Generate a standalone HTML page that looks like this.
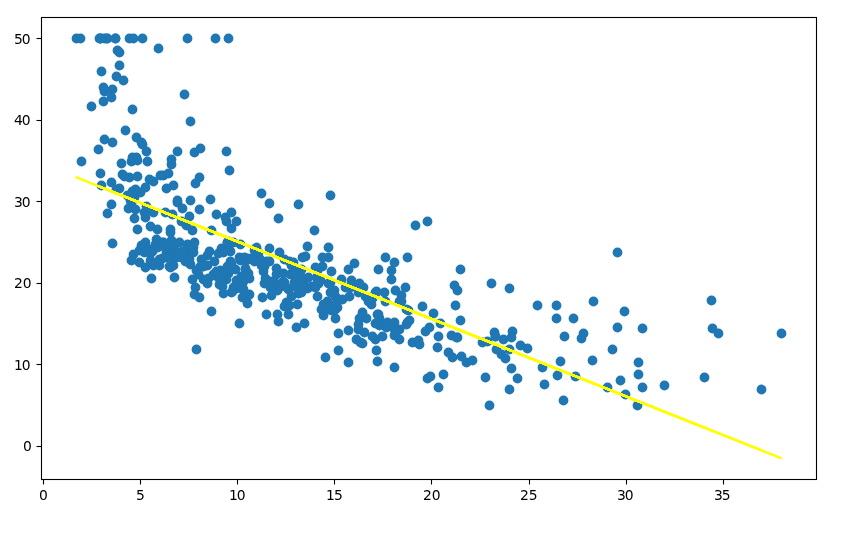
<!DOCTYPE html>
<html lang="en"><head><meta charset="utf-8"><title>Scatter plot with regression line</title>
<style>html,body{margin:0;padding:0;background:#fff}body{width:848px;height:539px;overflow:hidden}svg{display:block}text{font-family:"DejaVu Sans","Liberation Sans",sans-serif;font-size:13.89px;fill:#000}.p circle{fill:#1f77b4}</style></head><body>
<svg width="848" height="539" viewBox="0 0 848 539">
<rect x="0" y="0" width="848" height="539" fill="#fff"/>
<g class="p">
<circle cx="139.5" cy="250.5" r="4.89"/>
<circle cx="220.5" cy="270.5" r="4.89"/>
<circle cx="121.5" cy="163.5" r="4.89"/>
<circle cx="100.5" cy="173.5" r="4.89"/>
<circle cx="146.5" cy="151.5" r="4.89"/>
<circle cx="144.5" cy="212.5" r="4.89"/>
<circle cx="284.5" cy="259.5" r="4.89"/>
<circle cx="415.5" cy="225.5" r="4.89"/>
<circle cx="624.5" cy="311.5" r="4.89"/>
<circle cx="375.5" cy="292.5" r="4.89"/>
<circle cx="440.5" cy="323.5" r="4.89"/>
<circle cx="301.5" cy="292.5" r="4.89"/>
<circle cx="348.5" cy="269.5" r="4.89"/>
<circle cx="203.5" cy="279.5" r="4.89"/>
<circle cx="242.5" cy="297.5" r="4.89"/>
<circle cx="207.5" cy="283.5" r="4.89"/>
<circle cx="171.5" cy="257.5" r="4.89"/>
<circle cx="328.5" cy="303.5" r="4.89"/>
<circle cx="270.5" cy="281.5" r="4.89"/>
<circle cx="262.5" cy="297.5" r="4.89"/>
<circle cx="451.5" cy="335.5" r="4.89"/>
<circle cx="311.5" cy="286.5" r="4.89"/>
<circle cx="407.5" cy="322.5" r="4.89"/>
<circle cx="429.5" cy="327.5" r="4.89"/>
<circle cx="359.5" cy="318.5" r="4.89"/>
<circle cx="364.5" cy="332.5" r="4.89"/>
<circle cx="331.5" cy="310.5" r="4.89"/>
<circle cx="379.5" cy="325.5" r="4.89"/>
<circle cx="291.5" cy="296.5" r="4.89"/>
<circle cx="276.5" cy="274.5" r="4.89"/>
<circle cx="482.5" cy="342.5" r="4.89"/>
<circle cx="296.5" cy="327.5" r="4.89"/>
<circle cx="581.5" cy="338.5" r="4.89"/>
<circle cx="399.5" cy="339.5" r="4.89"/>
<circle cx="438.5" cy="336.5" r="4.89"/>
<circle cx="231.5" cy="292.5" r="4.89"/>
<circle cx="264.5" cy="283.5" r="4.89"/>
<circle cx="213.5" cy="274.5" r="4.89"/>
<circle cx="240.5" cy="244.5" r="4.89"/>
<circle cx="127.5" cy="195.5" r="4.89"/>
<circle cx="81.5" cy="161.5" r="4.89"/>
<circle cx="137.5" cy="229.5" r="4.89"/>
<circle cx="156.5" cy="239.5" r="4.89"/>
<circle cx="187.5" cy="244.5" r="4.89"/>
<circle cx="228.5" cy="273.5" r="4.89"/>
<circle cx="241.5" cy="288.5" r="4.89"/>
<circle cx="318.5" cy="283.5" r="4.89"/>
<circle cx="408.5" cy="310.5" r="4.89"/>
<circle cx="642.5" cy="328.5" r="4.89"/>
<circle cx="358.5" cy="287.5" r="4.89"/>
<circle cx="304.5" cy="285.5" r="4.89"/>
<circle cx="226.5" cy="279.5" r="4.89"/>
<circle cx="145.5" cy="242.5" r="4.89"/>
<circle cx="207.5" cy="255.5" r="4.89"/>
<circle cx="330.5" cy="292.5" r="4.89"/>
<circle cx="136.5" cy="157.5" r="4.89"/>
<circle cx="155.5" cy="244.5" r="4.89"/>
<circle cx="119.5" cy="188.5" r="4.89"/>
<circle cx="176.5" cy="256.5" r="4.89"/>
<circle cx="222.5" cy="286.5" r="4.89"/>
<circle cx="298.5" cy="293.5" r="4.89"/>
<circle cx="323.5" cy="315.5" r="4.89"/>
<circle cx="173.5" cy="265.5" r="4.89"/>
<circle cx="227.5" cy="242.5" r="4.89"/>
<circle cx="199.5" cy="177.5" r="4.89"/>
<circle cx="133.5" cy="254.5" r="4.89"/>
<circle cx="242.5" cy="287.5" r="4.89"/>
<circle cx="200.5" cy="266.5" r="4.89"/>
<circle cx="297.5" cy="304.5" r="4.89"/>
<circle cx="214.5" cy="275.5" r="4.89"/>
<circle cx="173.5" cy="248.5" r="4.89"/>
<circle cx="235.5" cy="269.5" r="4.89"/>
<circle cx="150.5" cy="260.5" r="4.89"/>
<circle cx="189.5" cy="255.5" r="4.89"/>
<circle cx="174.5" cy="249.5" r="4.89"/>
<circle cx="216.5" cy="271.5" r="4.89"/>
<circle cx="275.5" cy="283.5" r="4.89"/>
<circle cx="242.5" cy="276.5" r="4.89"/>
<circle cx="283.5" cy="273.5" r="4.89"/>
<circle cx="220.5" cy="280.5" r="4.89"/>
<circle cx="145.5" cy="217.5" r="4.89"/>
<circle cx="183.5" cy="251.5" r="4.89"/>
<circle cx="173.5" cy="243.5" r="4.89"/>
<circle cx="189.5" cy="259.5" r="4.89"/>
<circle cx="230.5" cy="251.5" r="4.89"/>
<circle cx="170.5" cy="229.5" r="4.89"/>
<circle cx="293.5" cy="262.5" r="4.89"/>
<circle cx="207.5" cy="265.5" r="4.89"/>
<circle cx="150.5" cy="253.5" r="4.89"/>
<circle cx="153.5" cy="212.5" r="4.89"/>
<circle cx="214.5" cy="261.5" r="4.89"/>
<circle cx="202.5" cy="266.5" r="4.89"/>
<circle cx="201.5" cy="259.5" r="4.89"/>
<circle cx="163.5" cy="242.5" r="4.89"/>
<circle cx="249.5" cy="278.5" r="4.89"/>
<circle cx="172.5" cy="214.5" r="4.89"/>
<circle cx="263.5" cy="271.5" r="4.89"/>
<circle cx="125.5" cy="130.5" r="4.89"/>
<circle cx="112.5" cy="89.5" r="4.89"/>
<circle cx="163.5" cy="175.5" r="4.89"/>
<circle cx="226.5" cy="221.5" r="4.89"/>
<circle cx="192.5" cy="230.5" r="4.89"/>
<circle cx="249.5" cy="294.5" r="4.89"/>
<circle cx="304.5" cy="288.5" r="4.89"/>
<circle cx="282.5" cy="282.5" r="4.89"/>
<circle cx="363.5" cy="287.5" r="4.89"/>
<circle cx="405.5" cy="287.5" r="4.89"/>
<circle cx="317.5" cy="279.5" r="4.89"/>
<circle cx="281.5" cy="284.5" r="4.89"/>
<circle cx="345.5" cy="287.5" r="4.89"/>
<circle cx="295.5" cy="269.5" r="4.89"/>
<circle cx="240.5" cy="260.5" r="4.89"/>
<circle cx="358.5" cy="292.5" r="4.89"/>
<circle cx="375.5" cy="293.5" r="4.89"/>
<circle cx="246.5" cy="295.5" r="4.89"/>
<circle cx="349.5" cy="296.5" r="4.89"/>
<circle cx="277.5" cy="273.5" r="4.89"/>
<circle cx="243.5" cy="289.5" r="4.89"/>
<circle cx="341.5" cy="279.5" r="4.89"/>
<circle cx="307.5" cy="288.5" r="4.89"/>
<circle cx="322.5" cy="266.5" r="4.89"/>
<circle cx="320.5" cy="280.5" r="4.89"/>
<circle cx="391.5" cy="279.5" r="4.89"/>
<circle cx="537.5" cy="305.5" r="4.89"/>
<circle cx="384.5" cy="292.5" r="4.89"/>
<circle cx="331.5" cy="271.5" r="4.89"/>
<circle cx="573.5" cy="318.5" r="4.89"/>
<circle cx="377.5" cy="314.5" r="4.89"/>
<circle cx="342.5" cy="299.5" r="4.89"/>
<circle cx="399.5" cy="329.5" r="4.89"/>
<circle cx="288.5" cy="289.5" r="4.89"/>
<circle cx="281.5" cy="286.5" r="4.89"/>
<circle cx="259.5" cy="258.5" r="4.89"/>
<circle cx="335.5" cy="296.5" r="4.89"/>
<circle cx="379.5" cy="318.5" r="4.89"/>
<circle cx="372.5" cy="298.5" r="4.89"/>
<circle cx="371.5" cy="304.5" r="4.89"/>
<circle cx="326.5" cy="306.5" r="4.89"/>
<circle cx="457.5" cy="337.5" r="4.89"/>
<circle cx="401.5" cy="301.5" r="4.89"/>
<circle cx="512.5" cy="331.5" r="4.89"/>
<circle cx="712.5" cy="328.5" r="4.89"/>
<circle cx="564.5" cy="336.5" r="4.89"/>
<circle cx="556.5" cy="318.5" r="4.89"/>
<circle cx="612.5" cy="349.5" r="4.89"/>
<circle cx="583.5" cy="333.5" r="4.89"/>
<circle cx="366.5" cy="318.5" r="4.89"/>
<circle cx="617.5" cy="327.5" r="4.89"/>
<circle cx="593.5" cy="301.5" r="4.89"/>
<circle cx="460.5" cy="320.5" r="4.89"/>
<circle cx="317.5" cy="270.5" r="4.89"/>
<circle cx="301.5" cy="286.5" r="4.89"/>
<circle cx="278.5" cy="321.5" r="4.89"/>
<circle cx="350.5" cy="287.5" r="4.89"/>
<circle cx="337.5" cy="307.5" r="4.89"/>
<circle cx="335.5" cy="318.5" r="4.89"/>
<circle cx="356.5" cy="339.5" r="4.89"/>
<circle cx="132.5" cy="109.5" r="4.89"/>
<circle cx="168.5" cy="248.5" r="4.89"/>
<circle cx="186.5" cy="256.5" r="4.89"/>
<circle cx="150.5" cy="226.5" r="4.89"/>
<circle cx="76.5" cy="38.5" r="4.89"/>
<circle cx="80.5" cy="38.5" r="4.89"/>
<circle cx="107.5" cy="38.5" r="4.89"/>
<circle cx="269.5" cy="261.5" r="4.89"/>
<circle cx="233.5" cy="242.5" r="4.89"/>
<circle cx="115.5" cy="38.5" r="4.89"/>
<circle cx="279.5" cy="252.5" r="4.89"/>
<circle cx="258.5" cy="252.5" r="4.89"/>
<circle cx="263.5" cy="264.5" r="4.89"/>
<circle cx="323.5" cy="304.5" r="4.89"/>
<circle cx="277.5" cy="290.5" r="4.89"/>
<circle cx="328.5" cy="257.5" r="4.89"/>
<circle cx="218.5" cy="253.5" r="4.89"/>
<circle cx="230.5" cy="261.5" r="4.89"/>
<circle cx="146.5" cy="206.5" r="4.89"/>
<circle cx="239.5" cy="257.5" r="4.89"/>
<circle cx="165.5" cy="245.5" r="4.89"/>
<circle cx="177.5" cy="202.5" r="4.89"/>
<circle cx="141.5" cy="142.5" r="4.89"/>
<circle cx="190.5" cy="121.5" r="4.89"/>
<circle cx="226.5" cy="151.5" r="4.89"/>
<circle cx="136.5" cy="137.5" r="4.89"/>
<circle cx="153.5" cy="181.5" r="4.89"/>
<circle cx="314.5" cy="230.5" r="4.89"/>
<circle cx="298.5" cy="204.5" r="4.89"/>
<circle cx="129.5" cy="38.5" r="4.89"/>
<circle cx="173.5" cy="185.5" r="4.89"/>
<circle cx="131.5" cy="203.5" r="4.89"/>
<circle cx="147.5" cy="161.5" r="4.89"/>
<circle cx="142.5" cy="144.5" r="4.89"/>
<circle cx="134.5" cy="197.5" r="4.89"/>
<circle cx="98.5" cy="149.5" r="4.89"/>
<circle cx="140.5" cy="192.5" r="4.89"/>
<circle cx="128.5" cy="208.5" r="4.89"/>
<circle cx="100.5" cy="38.5" r="4.89"/>
<circle cx="122.5" cy="174.5" r="4.89"/>
<circle cx="210.5" cy="199.5" r="4.89"/>
<circle cx="171.5" cy="164.5" r="4.89"/>
<circle cx="131.5" cy="161.5" r="4.89"/>
<circle cx="129.5" cy="177.5" r="4.89"/>
<circle cx="187.5" cy="249.5" r="4.89"/>
<circle cx="103.5" cy="101.5" r="4.89"/>
<circle cx="117.5" cy="50.5" r="4.89"/>
<circle cx="99.5" cy="38.5" r="4.89"/>
<circle cx="254.5" cy="261.5" r="4.89"/>
<circle cx="256.5" cy="247.5" r="4.89"/>
<circle cx="394.5" cy="262.5" r="4.89"/>
<circle cx="328.5" cy="247.5" r="4.89"/>
<circle cx="491.5" cy="283.5" r="4.89"/>
<circle cx="378.5" cy="269.5" r="4.89"/>
<circle cx="509.5" cy="288.5" r="4.89"/>
<circle cx="354.5" cy="263.5" r="4.89"/>
<circle cx="225.5" cy="217.5" r="4.89"/>
<circle cx="617.5" cy="252.5" r="4.89"/>
<circle cx="227.5" cy="242.5" r="4.89"/>
<circle cx="305.5" cy="256.5" r="4.89"/>
<circle cx="231.5" cy="212.5" r="4.89"/>
<circle cx="391.5" cy="270.5" r="4.89"/>
<circle cx="247.5" cy="258.5" r="4.89"/>
<circle cx="231.5" cy="228.5" r="4.89"/>
<circle cx="460.5" cy="269.5" r="4.89"/>
<circle cx="236.5" cy="221.5" r="4.89"/>
<circle cx="190.5" cy="200.5" r="4.89"/>
<circle cx="123.5" cy="80.5" r="4.89"/>
<circle cx="133.5" cy="38.5" r="4.89"/>
<circle cx="104.5" cy="139.5" r="4.89"/>
<circle cx="166.5" cy="188.5" r="4.89"/>
<circle cx="119.5" cy="65.5" r="4.89"/>
<circle cx="116.5" cy="189.5" r="4.89"/>
<circle cx="269.5" cy="248.5" r="4.89"/>
<circle cx="145.5" cy="187.5" r="4.89"/>
<circle cx="91.5" cy="106.5" r="4.89"/>
<circle cx="119.5" cy="52.5" r="4.89"/>
<circle cx="199.5" cy="209.5" r="4.89"/>
<circle cx="254.5" cy="250.5" r="4.89"/>
<circle cx="228.5" cy="241.5" r="4.89"/>
<circle cx="135.5" cy="189.5" r="4.89"/>
<circle cx="166.5" cy="252.5" r="4.89"/>
<circle cx="186.5" cy="256.5" r="4.89"/>
<circle cx="264.5" cy="266.5" r="4.89"/>
<circle cx="284.5" cy="282.5" r="4.89"/>
<circle cx="261.5" cy="265.5" r="4.89"/>
<circle cx="144.5" cy="252.5" r="4.89"/>
<circle cx="286.5" cy="302.5" r="4.89"/>
<circle cx="401.5" cy="295.5" r="4.89"/>
<circle cx="221.5" cy="248.5" r="4.89"/>
<circle cx="240.5" cy="279.5" r="4.89"/>
<circle cx="228.5" cy="246.5" r="4.89"/>
<circle cx="170.5" cy="232.5" r="4.89"/>
<circle cx="157.5" cy="247.5" r="4.89"/>
<circle cx="112.5" cy="243.5" r="4.89"/>
<circle cx="111.5" cy="204.5" r="4.89"/>
<circle cx="111.5" cy="97.5" r="4.89"/>
<circle cx="170.5" cy="267.5" r="4.89"/>
<circle cx="222.5" cy="275.5" r="4.89"/>
<circle cx="103.5" cy="87.5" r="4.89"/>
<circle cx="142.5" cy="38.5" r="4.89"/>
<circle cx="194.5" cy="152.5" r="4.89"/>
<circle cx="177.5" cy="200.5" r="4.89"/>
<circle cx="229.5" cy="170.5" r="4.89"/>
<circle cx="184.5" cy="94.5" r="4.89"/>
<circle cx="158.5" cy="48.5" r="4.89"/>
<circle cx="261.5" cy="193.5" r="4.89"/>
<circle cx="200.5" cy="148.5" r="4.89"/>
<circle cx="246.5" cy="260.5" r="4.89"/>
<circle cx="330.5" cy="195.5" r="4.89"/>
<circle cx="187.5" cy="38.5" r="4.89"/>
<circle cx="104.5" cy="91.5" r="4.89"/>
<circle cx="308.5" cy="277.5" r="4.89"/>
<circle cx="295.5" cy="274.5" r="4.89"/>
<circle cx="171.5" cy="240.5" r="4.89"/>
<circle cx="193.5" cy="247.5" r="4.89"/>
<circle cx="171.5" cy="159.5" r="4.89"/>
<circle cx="111.5" cy="182.5" r="4.89"/>
<circle cx="101.5" cy="185.5" r="4.89"/>
<circle cx="160.5" cy="175.5" r="4.89"/>
<circle cx="124.5" cy="176.5" r="4.89"/>
<circle cx="182.5" cy="208.5" r="4.89"/>
<circle cx="137.5" cy="160.5" r="4.89"/>
<circle cx="116.5" cy="76.5" r="4.89"/>
<circle cx="132.5" cy="157.5" r="4.89"/>
<circle cx="101.5" cy="71.5" r="4.89"/>
<circle cx="104.5" cy="38.5" r="4.89"/>
<circle cx="195.5" cy="183.5" r="4.89"/>
<circle cx="203.5" cy="266.5" r="4.89"/>
<circle cx="294.5" cy="282.5" r="4.89"/>
<circle cx="181.5" cy="257.5" r="4.89"/>
<circle cx="190.5" cy="264.5" r="4.89"/>
<circle cx="228.5" cy="243.5" r="4.89"/>
<circle cx="107.5" cy="213.5" r="4.89"/>
<circle cx="112.5" cy="142.5" r="4.89"/>
<circle cx="134.5" cy="218.5" r="4.89"/>
<circle cx="209.5" cy="251.5" r="4.89"/>
<circle cx="245.5" cy="269.5" r="4.89"/>
<circle cx="165.5" cy="212.5" r="4.89"/>
<circle cx="186.5" cy="225.5" r="4.89"/>
<circle cx="351.5" cy="280.5" r="4.89"/>
<circle cx="139.5" cy="262.5" r="4.89"/>
<circle cx="135.5" cy="209.5" r="4.89"/>
<circle cx="161.5" cy="243.5" r="4.89"/>
<circle cx="227.5" cy="266.5" r="4.89"/>
<circle cx="211.5" cy="230.5" r="4.89"/>
<circle cx="137.5" cy="176.5" r="4.89"/>
<circle cx="177.5" cy="151.5" r="4.89"/>
<circle cx="216.5" cy="214.5" r="4.89"/>
<circle cx="168.5" cy="173.5" r="4.89"/>
<circle cx="189.5" cy="216.5" r="4.89"/>
<circle cx="131.5" cy="260.5" r="4.89"/>
<circle cx="236.5" cy="280.5" r="4.89"/>
<circle cx="288.5" cy="314.5" r="4.89"/>
<circle cx="159.5" cy="265.5" r="4.89"/>
<circle cx="270.5" cy="287.5" r="4.89"/>
<circle cx="196.5" cy="270.5" r="4.89"/>
<circle cx="223.5" cy="252.5" r="4.89"/>
<circle cx="266.5" cy="314.5" r="4.89"/>
<circle cx="399.5" cy="301.5" r="4.89"/>
<circle cx="353.5" cy="284.5" r="4.89"/>
<circle cx="244.5" cy="257.5" r="4.89"/>
<circle cx="290.5" cy="274.5" r="4.89"/>
<circle cx="183.5" cy="252.5" r="4.89"/>
<circle cx="176.5" cy="257.5" r="4.89"/>
<circle cx="192.5" cy="279.5" r="4.89"/>
<circle cx="271.5" cy="295.5" r="4.89"/>
<circle cx="162.5" cy="242.5" r="4.89"/>
<circle cx="141.5" cy="245.5" r="4.89"/>
<circle cx="162.5" cy="258.5" r="4.89"/>
<circle cx="291.5" cy="265.5" r="4.89"/>
<circle cx="236.5" cy="288.5" r="4.89"/>
<circle cx="185.5" cy="261.5" r="4.89"/>
<circle cx="219.5" cy="284.5" r="4.89"/>
<circle cx="284.5" cy="306.5" r="4.89"/>
<circle cx="195.5" cy="287.5" r="4.89"/>
<circle cx="153.5" cy="265.5" r="4.89"/>
<circle cx="174.5" cy="277.5" r="4.89"/>
<circle cx="198.5" cy="274.5" r="4.89"/>
<circle cx="233.5" cy="287.5" r="4.89"/>
<circle cx="248.5" cy="295.5" r="4.89"/>
<circle cx="208.5" cy="278.5" r="4.89"/>
<circle cx="232.5" cy="291.5" r="4.89"/>
<circle cx="223.5" cy="293.5" r="4.89"/>
<circle cx="149.5" cy="179.5" r="4.89"/>
<circle cx="211.5" cy="311.5" r="4.89"/>
<circle cx="182.5" cy="251.5" r="4.89"/>
<circle cx="132.5" cy="191.5" r="4.89"/>
<circle cx="247.5" cy="303.5" r="4.89"/>
<circle cx="289.5" cy="305.5" r="4.89"/>
<circle cx="166.5" cy="257.5" r="4.89"/>
<circle cx="159.5" cy="246.5" r="4.89"/>
<circle cx="157.5" cy="229.5" r="4.89"/>
<circle cx="159.5" cy="259.5" r="4.89"/>
<circle cx="149.5" cy="249.5" r="4.89"/>
<circle cx="194.5" cy="294.5" r="4.89"/>
<circle cx="130.5" cy="200.5" r="4.89"/>
<circle cx="199.5" cy="297.5" r="4.89"/>
<circle cx="151.5" cy="278.5" r="4.89"/>
<circle cx="385.5" cy="301.5" r="4.89"/>
<circle cx="301.5" cy="269.5" r="4.89"/>
<circle cx="266.5" cy="261.5" r="4.89"/>
<circle cx="289.5" cy="261.5" r="4.89"/>
<circle cx="194.5" cy="242.5" r="4.89"/>
<circle cx="318.5" cy="283.5" r="4.89"/>
<circle cx="241.5" cy="276.5" r="4.89"/>
<circle cx="327.5" cy="309.5" r="4.89"/>
<circle cx="145.5" cy="267.5" r="4.89"/>
<circle cx="181.5" cy="221.5" r="4.89"/>
<circle cx="315.5" cy="267.5" r="4.89"/>
<circle cx="302.5" cy="257.5" r="4.89"/>
<circle cx="106.5" cy="38.5" r="4.89"/>
<circle cx="115.5" cy="38.5" r="4.89"/>
<circle cx="100.5" cy="38.5" r="4.89"/>
<circle cx="228.5" cy="38.5" r="4.89"/>
<circle cx="215.5" cy="38.5" r="4.89"/>
<circle cx="718.5" cy="333.5" r="4.89"/>
<circle cx="781.5" cy="333.5" r="4.89"/>
<circle cx="304.5" cy="323.5" r="4.89"/>
<circle cx="494.5" cy="332.5" r="4.89"/>
<circle cx="456.5" cy="337.5" r="4.89"/>
<circle cx="503.5" cy="339.5" r="4.89"/>
<circle cx="466.5" cy="362.5" r="4.89"/>
<circle cx="377.5" cy="361.5" r="4.89"/>
<circle cx="452.5" cy="357.5" r="4.89"/>
<circle cx="501.5" cy="354.5" r="4.89"/>
<circle cx="520.5" cy="345.5" r="4.89"/>
<circle cx="638.5" cy="374.5" r="4.89"/>
<circle cx="642.5" cy="387.5" r="4.89"/>
<circle cx="592.5" cy="360.5" r="4.89"/>
<circle cx="664.5" cy="385.5" r="4.89"/>
<circle cx="638.5" cy="362.5" r="4.89"/>
<circle cx="448.5" cy="352.5" r="4.89"/>
<circle cx="375.5" cy="323.5" r="4.89"/>
<circle cx="407.5" cy="257.5" r="4.89"/>
<circle cx="542.5" cy="367.5" r="4.89"/>
<circle cx="338.5" cy="333.5" r="4.89"/>
<circle cx="360.5" cy="342.5" r="4.89"/>
<circle cx="375.5" cy="339.5" r="4.89"/>
<circle cx="419.5" cy="344.5" r="4.89"/>
<circle cx="430.5" cy="376.5" r="4.89"/>
<circle cx="637.5" cy="405.5" r="4.89"/>
<circle cx="625.5" cy="394.5" r="4.89"/>
<circle cx="563.5" cy="400.5" r="4.89"/>
<circle cx="438.5" cy="387.5" r="4.89"/>
<circle cx="437.5" cy="347.5" r="4.89"/>
<circle cx="427.5" cy="378.5" r="4.89"/>
<circle cx="575.5" cy="376.5" r="4.89"/>
<circle cx="489.5" cy="405.5" r="4.89"/>
<circle cx="496.5" cy="349.5" r="4.89"/>
<circle cx="278.5" cy="218.5" r="4.89"/>
<circle cx="556.5" cy="305.5" r="4.89"/>
<circle cx="427.5" cy="221.5" r="4.89"/>
<circle cx="239.5" cy="323.5" r="4.89"/>
<circle cx="455.5" cy="305.5" r="4.89"/>
<circle cx="711.5" cy="300.5" r="4.89"/>
<circle cx="433.5" cy="313.5" r="4.89"/>
<circle cx="761.5" cy="389.5" r="4.89"/>
<circle cx="607.5" cy="387.5" r="4.89"/>
<circle cx="544.5" cy="384.5" r="4.89"/>
<circle cx="560.5" cy="361.5" r="4.89"/>
<circle cx="443.5" cy="374.5" r="4.89"/>
<circle cx="485.5" cy="377.5" r="4.89"/>
<circle cx="335.5" cy="309.5" r="4.89"/>
<circle cx="348.5" cy="330.5" r="4.89"/>
<circle cx="317.5" cy="276.5" r="4.89"/>
<circle cx="495.5" cy="336.5" r="4.89"/>
<circle cx="376.5" cy="350.5" r="4.89"/>
<circle cx="517.5" cy="378.5" r="4.89"/>
<circle cx="348.5" cy="362.5" r="4.89"/>
<circle cx="325.5" cy="357.5" r="4.89"/>
<circle cx="461.5" cy="356.5" r="4.89"/>
<circle cx="511.5" cy="368.5" r="4.89"/>
<circle cx="386.5" cy="327.5" r="4.89"/>
<circle cx="425.5" cy="331.5" r="4.89"/>
<circle cx="277.5" cy="314.5" r="4.89"/>
<circle cx="358.5" cy="329.5" r="4.89"/>
<circle cx="338.5" cy="350.5" r="4.89"/>
<circle cx="495.5" cy="336.5" r="4.89"/>
<circle cx="394.5" cy="367.5" r="4.89"/>
<circle cx="557.5" cy="375.5" r="4.89"/>
<circle cx="704.5" cy="377.5" r="4.89"/>
<circle cx="487.5" cy="341.5" r="4.89"/>
<circle cx="472.5" cy="360.5" r="4.89"/>
<circle cx="422.5" cy="306.5" r="4.89"/>
<circle cx="365.5" cy="296.5" r="4.89"/>
<circle cx="409.5" cy="320.5" r="4.89"/>
<circle cx="505.5" cy="358.5" r="4.89"/>
<circle cx="509.5" cy="349.5" r="4.89"/>
<circle cx="388.5" cy="324.5" r="4.89"/>
<circle cx="362.5" cy="343.5" r="4.89"/>
<circle cx="395.5" cy="331.5" r="4.89"/>
<circle cx="418.5" cy="340.5" r="4.89"/>
<circle cx="382.5" cy="336.5" r="4.89"/>
<circle cx="387.5" cy="322.5" r="4.89"/>
<circle cx="378.5" cy="314.5" r="4.89"/>
<circle cx="368.5" cy="301.5" r="4.89"/>
<circle cx="406.5" cy="324.5" r="4.89"/>
<circle cx="395.5" cy="331.5" r="4.89"/>
<circle cx="412.5" cy="342.5" r="4.89"/>
<circle cx="372.5" cy="336.5" r="4.89"/>
<circle cx="358.5" cy="324.5" r="4.89"/>
<circle cx="328.5" cy="283.5" r="4.89"/>
<circle cx="362.5" cy="312.5" r="4.89"/>
<circle cx="327.5" cy="301.5" r="4.89"/>
<circle cx="315.5" cy="287.5" r="4.89"/>
<circle cx="243.5" cy="281.5" r="4.89"/>
<circle cx="300.5" cy="271.5" r="4.89"/>
<circle cx="317.5" cy="283.5" r="4.89"/>
<circle cx="376.5" cy="291.5" r="4.89"/>
<circle cx="457.5" cy="290.5" r="4.89"/>
<circle cx="395.5" cy="290.5" r="4.89"/>
<circle cx="330.5" cy="282.5" r="4.89"/>
<circle cx="359.5" cy="283.5" r="4.89"/>
<circle cx="293.5" cy="286.5" r="4.89"/>
<circle cx="322.5" cy="257.5" r="4.89"/>
<circle cx="269.5" cy="203.5" r="4.89"/>
<circle cx="395.5" cy="333.5" r="4.89"/>
<circle cx="511.5" cy="337.5" r="4.89"/>
<circle cx="406.5" cy="309.5" r="4.89"/>
<circle cx="527.5" cy="348.5" r="4.89"/>
<circle cx="393.5" cy="327.5" r="4.89"/>
<circle cx="297.5" cy="271.5" r="4.89"/>
<circle cx="251.5" cy="258.5" r="4.89"/>
<circle cx="193.5" cy="252.5" r="4.89"/>
<circle cx="179.5" cy="242.5" r="4.89"/>
<circle cx="245.5" cy="268.5" r="4.89"/>
<circle cx="302.5" cy="278.5" r="4.89"/>
<circle cx="248.5" cy="273.5" r="4.89"/>
<circle cx="334.5" cy="290.5" r="4.89"/>
<circle cx="265.5" cy="278.5" r="4.89"/>
<circle cx="394.5" cy="322.5" r="4.89"/>
<circle cx="509.5" cy="389.5" r="4.89"/>
<circle cx="620.5" cy="380.5" r="4.89"/>
<circle cx="394.5" cy="335.5" r="4.89"/>
<circle cx="302.5" cy="282.5" r="4.89"/>
<circle cx="276.5" cy="268.5" r="4.89"/>
<circle cx="307.5" cy="246.5" r="4.89"/>
<circle cx="385.5" cy="257.5" r="4.89"/>
<circle cx="454.5" cy="285.5" r="4.89"/>
<circle cx="317.5" cy="296.5" r="4.89"/>
<circle cx="294.5" cy="273.5" r="4.89"/>
<circle cx="336.5" cy="303.5" r="4.89"/>
<circle cx="321.5" cy="309.5" r="4.89"/>
<circle cx="231.5" cy="263.5" r="4.89"/>
<circle cx="219.5" cy="278.5" r="4.89"/>
<circle cx="152.5" cy="251.5" r="4.89"/>
<circle cx="169.5" cy="266.5" r="4.89"/>
<circle cx="196.5" cy="349.5" r="4.89"/>
</g>
<g stroke="#ffff00" stroke-linecap="round">
<line x1="139.47" y1="202.52" x2="99.82" y2="186.73" stroke-width="2.08"/>
<line x1="99.82" y1="186.73" x2="284.28" y2="260.22" stroke-width="2.08"/>
<line x1="284.28" y1="260.22" x2="375.05" y2="296.38" stroke-width="2.08"/>
<line x1="375.05" y1="296.38" x2="348.03" y2="285.62" stroke-width="2.08"/>
<line x1="348.03" y1="285.62" x2="207.31" y2="229.55" stroke-width="2.08"/>
<line x1="207.31" y1="229.55" x2="269.90" y2="254.49" stroke-width="2.08"/>
<line x1="269.90" y1="254.49" x2="311.49" y2="271.06" stroke-width="2.08"/>
<line x1="311.49" y1="271.06" x2="359.50" y2="290.19" stroke-width="2.08"/>
<line x1="359.50" y1="290.19" x2="378.55" y2="297.78" stroke-width="2.08"/>
<line x1="378.55" y1="297.78" x2="481.95" y2="338.97" stroke-width="2.08"/>
<line x1="481.95" y1="338.97" x2="399.34" y2="306.06" stroke-width="2.08"/>
<line x1="399.34" y1="306.06" x2="264.45" y2="252.32" stroke-width="2.08"/>
<line x1="264.45" y1="252.32" x2="126.65" y2="197.41" stroke-width="2.08"/>
<line x1="126.65" y1="197.41" x2="155.61" y2="208.95" stroke-width="2.08"/>
<line x1="155.61" y1="208.95" x2="241.13" y2="243.03" stroke-width="2.08"/>
<line x1="241.13" y1="243.03" x2="641.53" y2="402.55" stroke-width="2.08"/>
<line x1="641.53" y1="402.55" x2="225.97" y2="236.98" stroke-width="2.08"/>
<line x1="225.97" y1="236.98" x2="330.34" y2="278.57" stroke-width="2.08"/>
<line x1="330.34" y1="278.57" x2="119.45" y2="194.55" stroke-width="2.08"/>
<line x1="119.45" y1="194.55" x2="298.27" y2="265.79" stroke-width="2.08"/>
<line x1="298.27" y1="265.79" x2="227.33" y2="237.53" stroke-width="2.08"/>
<line x1="227.33" y1="237.53" x2="241.71" y2="243.26" stroke-width="2.08"/>
<line x1="241.71" y1="243.26" x2="213.53" y2="232.03" stroke-width="2.08"/>
<line x1="213.53" y1="232.03" x2="149.97" y2="206.71" stroke-width="2.08"/>
<line x1="149.97" y1="206.71" x2="216.44" y2="233.19" stroke-width="2.08"/>
<line x1="216.44" y1="233.19" x2="282.53" y2="259.52" stroke-width="2.08"/>
<line x1="282.53" y1="259.52" x2="183.01" y2="219.87" stroke-width="2.08"/>
<line x1="183.01" y1="219.87" x2="229.66" y2="238.46" stroke-width="2.08"/>
<line x1="229.66" y1="238.46" x2="206.73" y2="229.32" stroke-width="2.08"/>
<line x1="206.73" y1="229.32" x2="213.92" y2="232.18" stroke-width="2.08"/>
<line x1="213.92" y1="232.18" x2="163.38" y2="212.05" stroke-width="2.08"/>
<line x1="163.38" y1="212.05" x2="263.09" y2="251.78" stroke-width="2.08"/>
<line x1="263.09" y1="251.78" x2="162.99" y2="211.89" stroke-width="2.08"/>
<line x1="162.99" y1="211.89" x2="249.29" y2="246.28" stroke-width="2.08"/>
<line x1="249.29" y1="246.28" x2="362.80" y2="291.50" stroke-width="2.08"/>
<line x1="362.80" y1="291.50" x2="281.17" y2="258.98" stroke-width="2.08"/>
<line x1="281.17" y1="258.98" x2="240.16" y2="242.64" stroke-width="2.08"/>
<line x1="240.16" y1="242.64" x2="245.79" y2="244.88" stroke-width="2.08"/>
<line x1="245.79" y1="244.88" x2="242.88" y2="243.72" stroke-width="2.08"/>
<line x1="242.88" y1="243.72" x2="321.99" y2="275.24" stroke-width="2.08"/>
<line x1="321.99" y1="275.24" x2="536.57" y2="360.73" stroke-width="2.08"/>
<line x1="536.57" y1="360.73" x2="572.53" y2="375.06" stroke-width="2.08"/>
<line x1="572.53" y1="375.06" x2="399.15" y2="305.98" stroke-width="2.08"/>
<line x1="399.15" y1="305.98" x2="258.82" y2="250.07" stroke-width="2.08"/>
<line x1="258.82" y1="250.07" x2="372.33" y2="295.30" stroke-width="2.08"/>
<line x1="372.33" y1="295.30" x2="457.07" y2="329.06" stroke-width="2.08"/>
<line x1="457.07" y1="329.06" x2="711.50" y2="430.43" stroke-width="2.08"/>
<line x1="711.50" y1="430.43" x2="611.98" y2="390.78" stroke-width="2.08"/>
<line x1="611.98" y1="390.78" x2="616.65" y2="392.64" stroke-width="2.08"/>
<line x1="616.65" y1="392.64" x2="316.74" y2="273.15" stroke-width="2.08"/>
<line x1="316.74" y1="273.15" x2="349.59" y2="286.24" stroke-width="2.08"/>
<line x1="349.59" y1="286.24" x2="356.39" y2="288.95" stroke-width="2.08"/>
<line x1="356.39" y1="288.95" x2="186.32" y2="221.19" stroke-width="2.08"/>
<line x1="186.32" y1="221.19" x2="76.30" y2="177.36" stroke-width="2.08"/>
<line x1="76.30" y1="177.36" x2="80.00" y2="178.83" stroke-width="2.08"/>
<line x1="80.00" y1="178.83" x2="233.35" y2="239.93" stroke-width="2.08"/>
<line x1="233.35" y1="239.93" x2="258.43" y2="249.92" stroke-width="2.08"/>
<line x1="258.43" y1="249.92" x2="276.50" y2="257.12" stroke-width="2.08"/>
<line x1="276.50" y1="257.12" x2="230.05" y2="238.61" stroke-width="2.08"/>
<line x1="230.05" y1="238.61" x2="164.94" y2="212.67" stroke-width="2.08"/>
<line x1="164.94" y1="212.67" x2="189.62" y2="222.50" stroke-width="2.08"/>
<line x1="189.62" y1="222.50" x2="153.08" y2="207.94" stroke-width="2.08"/>
<line x1="153.08" y1="207.94" x2="129.17" y2="198.42" stroke-width="2.08"/>
<line x1="129.17" y1="198.42" x2="147.44" y2="205.70" stroke-width="2.08"/>
<line x1="147.44" y1="205.70" x2="98.46" y2="186.18" stroke-width="2.08"/>
<line x1="98.46" y1="186.18" x2="100.41" y2="186.96" stroke-width="2.08"/>
<line x1="100.41" y1="186.96" x2="171.35" y2="215.22" stroke-width="2.08"/>
<line x1="171.35" y1="215.22" x2="187.09" y2="221.50" stroke-width="2.08"/>
<line x1="187.09" y1="221.50" x2="98.66" y2="186.26" stroke-width="2.08"/>
<line x1="98.66" y1="186.26" x2="393.71" y2="303.82" stroke-width="2.08"/>
<line x1="393.71" y1="303.82" x2="378.35" y2="297.70" stroke-width="2.08"/>
<line x1="378.35" y1="297.70" x2="225.00" y2="236.60" stroke-width="2.08"/>
<line x1="225.00" y1="236.60" x2="305.27" y2="268.58" stroke-width="2.08"/>
<line x1="305.27" y1="268.58" x2="246.77" y2="245.27" stroke-width="2.08"/>
<line x1="246.77" y1="245.27" x2="235.69" y2="240.86" stroke-width="2.08"/>
<line x1="235.69" y1="240.86" x2="132.67" y2="199.81" stroke-width="2.08"/>
<line x1="132.67" y1="199.81" x2="118.87" y2="194.32" stroke-width="2.08"/>
<line x1="118.87" y1="194.32" x2="144.72" y2="204.61" stroke-width="2.08"/>
<line x1="144.72" y1="204.61" x2="199.14" y2="226.30" stroke-width="2.08"/>
<line x1="199.14" y1="226.30" x2="134.61" y2="200.59" stroke-width="2.08"/>
<line x1="134.61" y1="200.59" x2="263.87" y2="252.09" stroke-width="2.08"/>
<line x1="263.87" y1="252.09" x2="143.56" y2="204.15" stroke-width="2.08"/>
<line x1="143.56" y1="204.15" x2="220.72" y2="234.89" stroke-width="2.08"/>
<line x1="220.72" y1="234.89" x2="170.18" y2="214.76" stroke-width="2.08"/>
<line x1="170.18" y1="214.76" x2="111.29" y2="191.30" stroke-width="2.08"/>
<line x1="111.29" y1="191.30" x2="222.47" y2="235.59" stroke-width="2.08"/>
<line x1="222.47" y1="235.59" x2="194.09" y2="224.28" stroke-width="2.08"/>
<line x1="194.09" y1="224.28" x2="183.79" y2="220.18" stroke-width="2.08"/>
<line x1="183.79" y1="220.18" x2="200.12" y2="226.69" stroke-width="2.08"/>
<line x1="200.12" y1="226.69" x2="187.29" y2="221.57" stroke-width="2.08"/>
<line x1="187.29" y1="221.57" x2="295.36" y2="264.63" stroke-width="2.08"/>
<line x1="295.36" y1="264.63" x2="170.57" y2="214.91" stroke-width="2.08"/>
<line x1="170.57" y1="214.91" x2="160.27" y2="210.81" stroke-width="2.08"/>
<line x1="160.27" y1="210.81" x2="136.95" y2="201.52" stroke-width="2.08"/>
<line x1="136.95" y1="201.52" x2="101.18" y2="187.27" stroke-width="2.08"/>
<line x1="101.18" y1="187.27" x2="202.64" y2="227.69" stroke-width="2.08"/>
<line x1="202.64" y1="227.69" x2="190.40" y2="222.81" stroke-width="2.08"/>
<line x1="190.40" y1="222.81" x2="111.87" y2="191.53" stroke-width="2.08"/>
<line x1="111.87" y1="191.53" x2="244.82" y2="244.50" stroke-width="2.08"/>
<line x1="244.82" y1="244.50" x2="350.56" y2="286.62" stroke-width="2.08"/>
<line x1="350.56" y1="286.62" x2="160.66" y2="210.96" stroke-width="2.08"/>
<line x1="160.66" y1="210.96" x2="137.14" y2="201.59" stroke-width="2.08"/>
<line x1="137.14" y1="201.59" x2="168.43" y2="214.06" stroke-width="2.08"/>
<line x1="168.43" y1="214.06" x2="236.46" y2="241.17" stroke-width="2.08"/>
<line x1="236.46" y1="241.17" x2="270.48" y2="254.72" stroke-width="2.08"/>
<line x1="270.48" y1="254.72" x2="266.20" y2="253.02" stroke-width="2.08"/>
<line x1="266.20" y1="253.02" x2="244.04" y2="244.19" stroke-width="2.08"/>
<line x1="244.04" y1="244.19" x2="176.21" y2="217.16" stroke-width="2.08"/>
<line x1="176.21" y1="217.16" x2="161.63" y2="211.35" stroke-width="2.08"/>
<line x1="161.63" y1="211.35" x2="291.28" y2="263.00" stroke-width="2.08"/>
<line x1="291.28" y1="263.00" x2="219.36" y2="234.35" stroke-width="2.08"/>
<line x1="219.36" y1="234.35" x2="153.08" y2="207.94" stroke-width="2.08"/>
<line x1="153.08" y1="207.94" x2="233.16" y2="239.85" stroke-width="2.08"/>
<line x1="233.16" y1="239.85" x2="231.99" y2="239.39" stroke-width="2.08"/>
<line x1="231.99" y1="239.39" x2="210.81" y2="230.94" stroke-width="2.08"/>
<line x1="210.81" y1="230.94" x2="247.35" y2="245.50" stroke-width="2.08"/>
<line x1="247.35" y1="245.50" x2="159.10" y2="210.35" stroke-width="2.08"/>
<line x1="159.10" y1="210.35" x2="149.39" y2="206.47" stroke-width="2.08"/>
<line x1="149.39" y1="206.47" x2="199.14" y2="226.30" stroke-width="2.08"/>
<line x1="199.14" y1="226.30" x2="300.61" y2="266.72" stroke-width="2.08"/>
<line x1="300.61" y1="266.72" x2="194.09" y2="224.28" stroke-width="2.08"/>
<line x1="194.09" y1="224.28" x2="327.23" y2="277.33" stroke-width="2.08"/>
<line x1="327.23" y1="277.33" x2="314.79" y2="272.38" stroke-width="2.08"/>
<line x1="314.79" y1="272.38" x2="115.18" y2="192.84" stroke-width="2.08"/>
<line x1="115.18" y1="192.84" x2="215.28" y2="232.73" stroke-width="2.08"/>
<line x1="215.28" y1="232.73" x2="780.70" y2="458.00" stroke-width="2.08"/>
<line x1="780.70" y1="458.00" x2="303.91" y2="268.04" stroke-width="2.08"/>
<line x1="303.91" y1="268.04" x2="503.14" y2="347.41" stroke-width="2.08"/>
<line x1="503.14" y1="347.41" x2="452.41" y2="327.20" stroke-width="2.08"/>
<line x1="452.41" y1="327.20" x2="638.03" y2="401.16" stroke-width="2.08"/>
<line x1="638.03" y1="401.16" x2="664.46" y2="411.69" stroke-width="2.08"/>
<line x1="664.46" y1="411.69" x2="375.24" y2="296.46" stroke-width="2.08"/>
<line x1="375.24" y1="296.46" x2="337.54" y2="281.44" stroke-width="2.08"/>
<line x1="337.54" y1="281.44" x2="419.17" y2="313.96" stroke-width="2.08"/>
<line x1="419.17" y1="313.96" x2="625.20" y2="396.05" stroke-width="2.08"/>
<line x1="625.20" y1="396.05" x2="437.44" y2="321.24" stroke-width="2.08"/>
<line x1="437.44" y1="321.24" x2="489.34" y2="341.92" stroke-width="2.08"/>
<line x1="489.34" y1="341.92" x2="555.81" y2="368.40" stroke-width="2.08"/>
<line x1="555.81" y1="368.40" x2="455.13" y2="328.29" stroke-width="2.08"/>
<line x1="455.13" y1="328.29" x2="761.45" y2="450.33" stroke-width="2.08"/>
<line x1="761.45" y1="450.33" x2="560.48" y2="370.26" stroke-width="2.08"/>
<line x1="560.48" y1="370.26" x2="334.62" y2="280.27" stroke-width="2.08"/>
<line x1="334.62" y1="280.27" x2="495.36" y2="344.32" stroke-width="2.08"/>
<line x1="495.36" y1="344.32" x2="347.64" y2="285.46" stroke-width="2.08"/>
<line x1="347.64" y1="285.46" x2="510.72" y2="350.44" stroke-width="2.08"/>
<line x1="510.72" y1="350.44" x2="276.50" y2="257.12" stroke-width="2.08"/>
<line x1="276.50" y1="257.12" x2="494.97" y2="344.16" stroke-width="2.08"/>
<line x1="494.97" y1="344.16" x2="703.92" y2="427.41" stroke-width="2.08"/>
<line x1="703.92" y1="427.41" x2="422.09" y2="315.12" stroke-width="2.08"/>
<line x1="422.09" y1="315.12" x2="505.08" y2="348.19" stroke-width="2.08"/>
<line x1="505.08" y1="348.19" x2="362.22" y2="291.27" stroke-width="2.08"/>
<line x1="362.22" y1="291.27" x2="381.66" y2="299.01" stroke-width="2.08"/>
<line x1="381.66" y1="299.01" x2="368.05" y2="293.59" stroke-width="2.08"/>
<line x1="368.05" y1="293.59" x2="412.17" y2="311.17" stroke-width="2.08"/>
<line x1="412.17" y1="311.17" x2="328.40" y2="277.80" stroke-width="2.08"/>
<line x1="328.40" y1="277.80" x2="314.60" y2="272.30" stroke-width="2.08"/>
<line x1="314.60" y1="272.30" x2="317.32" y2="273.38" stroke-width="2.08"/>
<line x1="317.32" y1="273.38" x2="395.07" y2="304.36" stroke-width="2.08"/>
<line x1="395.07" y1="304.36" x2="292.83" y2="263.62" stroke-width="2.08"/>
<line x1="292.83" y1="263.62" x2="395.26" y2="304.44" stroke-width="2.08"/>
<line x1="395.26" y1="304.44" x2="526.85" y2="356.86" stroke-width="2.08"/>
<line x1="526.85" y1="356.86" x2="251.43" y2="247.13" stroke-width="2.08"/>
<line x1="251.43" y1="247.13" x2="245.21" y2="244.65" stroke-width="2.08"/>
<line x1="245.21" y1="244.65" x2="333.84" y2="279.96" stroke-width="2.08"/>
<line x1="333.84" y1="279.96" x2="508.58" y2="349.58" stroke-width="2.08"/>
<line x1="508.58" y1="349.58" x2="302.16" y2="267.34" stroke-width="2.08"/>
<line x1="302.16" y1="267.34" x2="384.77" y2="300.25" stroke-width="2.08"/>
<line x1="384.77" y1="300.25" x2="293.80" y2="264.01" stroke-width="2.08"/>
<line x1="293.80" y1="264.01" x2="230.63" y2="238.84" stroke-width="2.08"/>
<line x1="230.63" y1="238.84" x2="168.63" y2="214.14" stroke-width="2.08"/>
</g>
<g stroke="#000" stroke-width="1.1">
<line x1="43.5" y1="480.0" x2="43.5" y2="484.50"/>
<line x1="140.5" y1="480.0" x2="140.5" y2="484.50"/>
<line x1="237.5" y1="480.0" x2="237.5" y2="484.50"/>
<line x1="334.5" y1="480.0" x2="334.5" y2="484.50"/>
<line x1="431.5" y1="480.0" x2="431.5" y2="484.50"/>
<line x1="529.5" y1="480.0" x2="529.5" y2="484.50"/>
<line x1="626.5" y1="480.0" x2="626.5" y2="484.50"/>
<line x1="723.5" y1="480.0" x2="723.5" y2="484.50"/>
<line x1="36.50" y1="446.5" x2="41.0" y2="446.5"/>
<line x1="36.50" y1="364.5" x2="41.0" y2="364.5"/>
<line x1="36.50" y1="283.5" x2="41.0" y2="283.5"/>
<line x1="36.50" y1="201.5" x2="41.0" y2="201.5"/>
<line x1="36.50" y1="120.5" x2="41.0" y2="120.5"/>
<line x1="36.50" y1="38.5" x2="41.0" y2="38.5"/>
</g>
<rect x="41.5" y="17.5" width="775" height="462" fill="none" stroke="#000" stroke-width="1.1"/>
<g>
<text x="38.93" y="499.57">0</text>
<text x="135.88" y="499.57">5</text>
<text x="228.92 236.76" y="499.57">10</text>
<text x="326.12 333.96" y="499.57">15</text>
<text x="423.08 431.67" y="499.57">20</text>
<text x="520.03 528.87" y="499.57">25</text>
<text x="616.99 624.83" y="499.57">30</text>
<text x="713.95 721.78" y="499.57">35</text>
<text x="22.94" y="450.66">0</text>
<text x="14.11 21.69" y="369.64">10</text>
<text x="14.11 22.69" y="287.62">20</text>
<text x="14.11 21.69" y="206.59">30</text>
<text x="14.11 21.69" y="124.57">40</text>
<text x="14.11 21.69" y="43.55">50</text>
</g>
</svg></body></html>
